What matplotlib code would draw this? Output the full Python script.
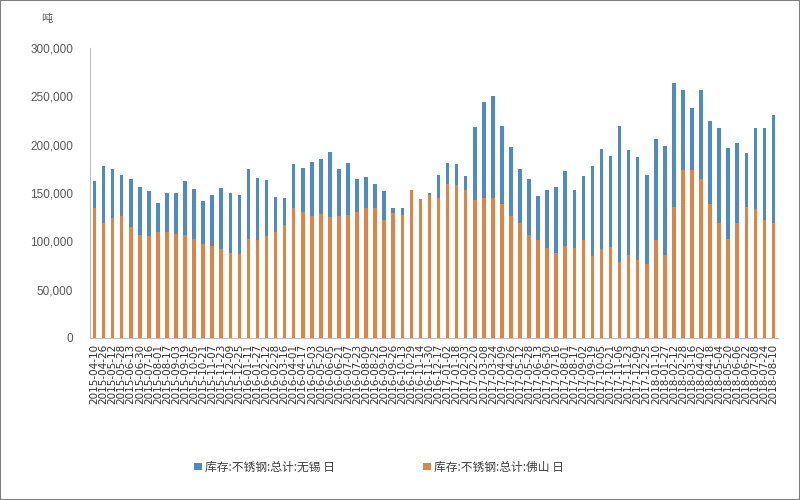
import numpy as np
import pandas as pd
import matplotlib
matplotlib.use('Agg')
import matplotlib.pyplot as plt
from matplotlib.patches import Rectangle

plt.rcParams['font.family'] = ['Noto Sans CJK SC', 'DejaVu Sans']

# weekly-ish report dates (labels under each bar)
dates = pd.date_range('2015-04-10', '2018-08-10', periods=76).strftime('%Y-%m-%d').tolist()

# 库存:不锈钢:总计:无锡 (tons)
wuxi = [162, 178, 175, 169, 165, 156, 152, 140, 150, 150,
        162, 154, 142, 148, 155, 150, 148, 175, 166, 163,
        146, 145, 180, 176, 182, 185, 192, 175, 181, 164,
        167, 159, 152, 134, 134, 148, 140, 150, 169, 181,
        180, 168, 218, 244, 250, 219, 198, 175, 165, 147,
        153, 156, 173, 153, 168, 178, 196, 188, 219, 194,
        187, 169, 206, 199, 264, 257, 238, 257, 225, 217,
        197, 202, 191, 217, 217, 231]

# 库存:不锈钢:总计:佛山 (tons)
foshan = [134, 119, 124, 126, 115, 107, 106, 110, 110, 108,
          107, 102, 97, 95, 92, 88, 87, 102, 101, 106,
          110, 117, 135, 130, 126, 128, 125, 126, 127, 130,
          134, 134, 122, 129, 127, 153, 144, 148, 145, 159,
          158, 153, 143, 145, 145, 139, 126, 119, 107, 101,
          93, 88, 95, 93, 101, 85, 92, 94, 79, 86,
          81, 77, 101, 86, 136, 174, 174, 164, 139, 119,
          102, 119, 136, 133, 122, 119]

labels = ['库存:不锈钢:总计:无锡 日', '库存:不锈钢:总计:佛山 日']

fig = plt.figure(figsize=(8, 5), dpi=100)
ax = fig.add_axes([0.1125, 0.324, 0.86, 0.58])

x = np.arange(len(dates))
ax.bar(x, np.array(wuxi) * 1000, width=0.4, color='#4f8bc0', label=labels[0], zorder=2)
ax.bar(x, np.array(foshan) * 1000, width=0.4, color='#de8444', label=labels[1], zorder=3)

ax.set_xlim(-0.5, len(dates) - 0.5)
ax.set_ylim(0, 300000)
ax.set_yticks(np.arange(0, 300001, 50000))
ax.set_yticklabels(['{:,}'.format(v) for v in range(0, 300001, 50000)],
                   fontsize=8.5, color='#595959', family='Liberation Sans')
ax.set_xticks(x)
ax.set_xticklabels(dates, rotation=90, fontsize=7.5, color='#333333', family='DejaVu Sans')
ax.tick_params(axis='x', length=0, pad=4)
ax.tick_params(axis='y', length=0, pad=12)

for s in ['top', 'right']:
    ax.spines[s].set_visible(False)
ax.spines['left'].set_color('#bfbfbf')
ax.spines['bottom'].set_color('#bfbfbf')

fig.text(0.052, 0.962, '吨', fontsize=8, color='#595959', ha='left', va='center')

fig.legend(loc='center', bbox_to_anchor=(0.474, 0.066), ncol=2, frameon=False,
           fontsize=8.5, handlelength=0.6, handleheight=0.6, columnspacing=7.5,
           handletextpad=0.3, labelcolor='#404040')

fig.patches.append(Rectangle((0, 0), 1, 1, transform=fig.transFigure, fill=False,
                             edgecolor='#7f7f7f', linewidth=1.5))

fig.savefig('out.png', dpi=100)
